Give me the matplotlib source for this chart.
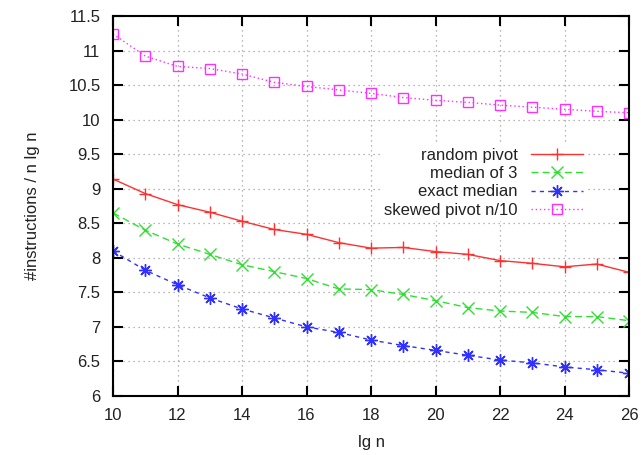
import matplotlib.pyplot as plt
import numpy as np

plt.rcParams['font.family'] = ['Liberation Sans', 'DejaVu Sans']

# lg n values
lg_n = np.arange(10, 27)

# instructions / (n lg n)
random_pivot = [9.14, 8.93, 8.77, 8.66, 8.53, 8.41, 8.34, 8.22, 8.14,
                8.15, 8.09, 8.05, 7.96, 7.92, 7.87, 7.91, 7.79]
median_of_3 = [8.65, 8.40, 8.20, 8.05, 7.90, 7.80, 7.70, 7.55, 7.54,
               7.47, 7.38, 7.28, 7.23, 7.21, 7.15, 7.15, 7.09]
exact_median = [8.10, 7.82, 7.61, 7.42, 7.26, 7.13, 7.00, 6.92, 6.81,
                6.73, 6.66, 6.59, 6.52, 6.48, 6.42, 6.38, 6.33]
skewed_pivot = [11.24, 10.92, 10.77, 10.74, 10.66, 10.54, 10.48, 10.43, 10.38,
                10.32, 10.28, 10.25, 10.21, 10.18, 10.15, 10.12, 10.10]

x_ticks = np.arange(10, 27, 2)
y_ticks = np.arange(6, 11.51, 0.5)

fig = plt.figure(figsize=(6.41, 4.55), dpi=100)
ax = fig.add_axes([113 / 641, 1 - 396 / 455, (629 - 113) / 641, (396 - 16) / 455])

ax.plot(lg_n, random_pivot, color='#ff3030', lw=1, ls='-', marker='+', ms=9, mew=1,
        label='random pivot')
ax.plot(lg_n, median_of_3, color='#30e030', lw=1, ls=(0, (5, 3)), marker='x', ms=8, mew=1,
        label='median of 3')
ax.plot(lg_n, exact_median, color='#3030ff', lw=1, ls=(0, (3, 3)), marker=(8, 2, 0), ms=9, mew=1,
        label='exact median')
ax.plot(lg_n, skewed_pivot, color='#ff30ff', lw=1, ls=(0, (1, 2)), marker='s', ms=7.5, mew=1,
        mfc='none', label='skewed pivot n/10')

ax.set_xlim(10, 26)
ax.set_ylim(6, 11.5)
ax.set_xticks(x_ticks)
ax.set_yticks(y_ticks)
ax.set_yticklabels([f'{v:g}' for v in y_ticks])
ax.grid(True, color='#a0a0a0', ls=(0, (1, 3)), lw=0.9)
ax.tick_params(direction='in', length=7, width=1.5, top=True, right=True,
               labelsize=12, pad=9, colors='black', labelcolor='#222222')
for s in ax.spines.values():
    s.set_linewidth(1.5)

ax.set_xlabel('lg n', fontsize=12, color='#222222', labelpad=8)
ax.set_ylabel('#instructions / n lg n', fontsize=12, color='#222222', labelpad=20)

leg = ax.legend(loc='upper right', bbox_to_anchor=(0.917, 0.662), borderaxespad=0,
                markerfirst=False, frameon=True, fontsize=12, handlelength=3.1,
                labelspacing=0.2, borderpad=0.2, handletextpad=0.8)
leg.get_frame().set_edgecolor('none')
leg.get_frame().set_facecolor('white')
leg.get_frame().set_alpha(1)
for t in leg.get_texts():
    t.set_ha('right')
    t.set_color('#222222')
leg._legend_box.align = 'right'

fig.savefig('out.png', dpi=100)
